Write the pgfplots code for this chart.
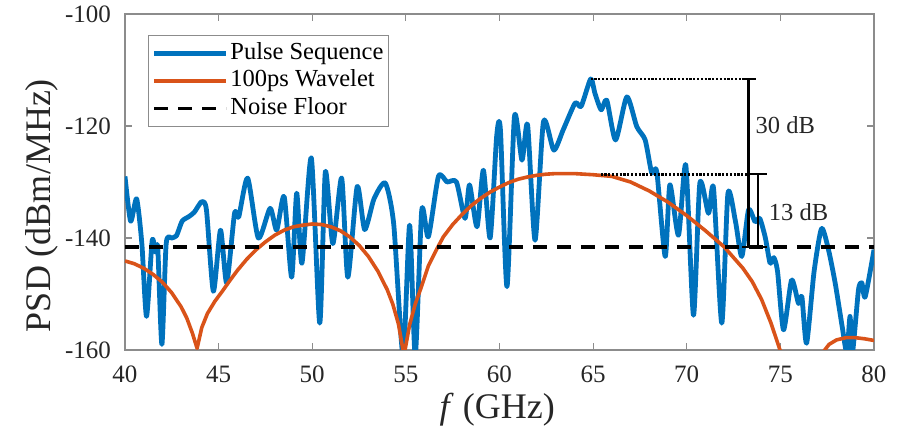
\documentclass[border=0pt]{standalone}
\usepackage{fontspec}
\setmainfont{Liberation Serif}
\usepackage{pgfplots}
\pgfplotsset{compat=1.18}
\definecolor{mblue}{HTML}{0072BD}
\definecolor{morange}{HTML}{D95319}
\definecolor{axgray}{HTML}{8C8C8C}
\definecolor{txt}{HTML}{262626}
\begin{document}
\begin{tikzpicture}
\useasboundingbox (-62.5pt,-41.5pt) rectangle (388.5pt,175pt);
\begin{axis}[
  scale only axis, width=374.5pt, height=168pt,
  xmin=40, xmax=80, ymin=-160, ymax=-100,
  xtick={40,45,...,80}, ytick={-160,-140,-120,-100},
  tick align=inside, tick pos=both, major tick length=3.5pt,
  axis line style={axgray, line width=0.6pt},
  every tick/.style={axgray, line width=0.6pt},
  tick label style={font=\fontsize{12.5}{14}\selectfont, text=txt},
  /pgf/number format/assume math mode=true,
  yticklabel style={xshift=-3.5pt},
  xticklabel style={yshift=-4.3pt},
  xlabel={\textit{f} (GHz)}, ylabel={PSD (dBm/MHz)},
  label style={font=\fontsize{18}{20}\selectfont, text=txt},
  xlabel style={at={(axis description cs:0.497,-0.179)}, anchor=center},
  ylabel style={at={(axis description cs:-0.111,0.43)}, anchor=center},
  legend style={at={(axis description cs:0.0307,0.9375)}, anchor=north west,
    draw=axgray, line width=0.6pt, inner xsep=1.6pt, inner ysep=2pt,
    font=\fontsize{12.25}{13.75}\selectfont,
    nodes={inner sep=0.9pt, text height=9pt, text depth=3pt}},
  legend cell align=left,
  legend image code/.code={\draw[#1] (0pt,0pt) -- (36pt,0pt);},
]
\addplot[mblue, line width=2.4pt, smooth, tension=0.4, line join=round] coordinates {
(40.0,-129.0) (40.3,-137.0) (40.62,-133.0) (40.9,-141.0) (41.15,-154.0)
(41.45,-140.5) (41.62,-142.5) (41.75,-141.8) (41.97,-159.0) (42.2,-141.0)
(42.5,-140.0) (42.75,-139.6) (43.05,-137.0) (43.4,-136.2) (43.7,-135.4)
(44.1,-133.5) (44.35,-135.0) (44.72,-149.5) (45.1,-138.6) (45.43,-148.0)
(45.85,-135.6) (46.07,-136.3) (46.55,-129.3) (47.12,-140.0) (47.75,-134.7)
(48.1,-138.6) (48.5,-132.6) (48.9,-147.0) (49.17,-132.0) (49.45,-144.5)
(49.95,-125.7) (50.4,-155.2) (50.7,-128.2) (51.1,-141.0) (51.57,-129.3)
(51.9,-147.0) (52.4,-130.8) (52.8,-138.5) (53.3,-133.0) (53.9,-130.2)
(54.35,-137.5) (54.85,-161.0) (55.2,-137.7) (55.5,-161.0) (55.85,-135.0)
(56.2,-139.8) (56.74,-129.0) (57.2,-130.0) (57.7,-130.0) (58.16,-136.5)
(58.4,-130.5) (58.8,-138.0) (59.14,-127.9) (59.5,-140.0) (59.85,-121.8)
(60.05,-120.7) (60.4,-148.7) (60.8,-118.3) (61.2,-126.1) (61.5,-119.8)
(61.9,-140.4) (62.35,-119.2) (62.9,-124.3) (63.4,-120.7) (64.04,-115.9)
(64.36,-116.5) (64.87,-111.6) (65.1,-114.2) (65.43,-117.1) (65.73,-115.4)
(66.2,-122.5) (66.8,-114.8) (67.33,-120.1) (67.78,-122.5) (68.13,-128.4)
(68.4,-128.2) (68.85,-143.3) (69.1,-130.5) (69.56,-139.5) (69.95,-127.0)
(70.36,-153.8) (70.7,-130.2) (71.16,-135.6) (71.43,-131.1) (71.87,-155.2)
(72.2,-132.0) (72.6,-137.0) (72.94,-143.3) (73.3,-135.0) (73.65,-137.1)
(73.9,-136.5) (74.2,-140.0) (74.45,-144.5) (74.65,-143.5) (74.85,-146.0)
(75.17,-156.4) (75.6,-147.5) (75.97,-151.7) (76.15,-150.5) (76.4,-158.8)
(76.8,-146.0) (77.2,-138.3) (77.57,-142.1) (77.93,-148.1) (78.3,-155.8)
(78.55,-160.5) (78.72,-154.0) (78.85,-160.5) (79.17,-149.3) (79.35,-148.0)
(79.53,-150.5) (80.0,-142.1)
};
\addplot[morange, line width=1.8pt, line join=round] coordinates {
(40.0,-144.1) (40.5,-144.6) (41.0,-145.4) (41.5,-146.5) (42.0,-147.9)
(42.5,-149.8) (43.0,-152.3) (43.3,-154.3) (43.6,-157.0) (43.85,-159.7)
(44.1,-156.0) (44.4,-153.5) (44.8,-151.3) (45.2,-149.5) (45.6,-147.6)
(46.0,-145.8) (46.5,-143.8) (47.0,-142.1) (47.5,-140.7) (48.0,-139.5)
(48.5,-138.6) (49.0,-138.0) (49.5,-137.7) (50.0,-137.5) (50.5,-137.6)
(51.0,-138.0) (51.5,-138.7) (52.0,-139.8) (52.5,-141.3) (53.0,-143.3)
(53.5,-145.9) (54.0,-149.2) (54.3,-151.8) (54.6,-155.3) (54.9,-161.0)
(55.2,-155.5) (55.5,-151.8) (55.8,-149.0) (56.2,-145.0) (56.6,-142.3)
(57.0,-139.8) (57.5,-137.6) (58.0,-135.8) (58.5,-134.2) (59.0,-132.9)
(59.5,-131.8) (60.0,-130.9) (60.5,-130.1) (61.0,-129.5) (61.5,-129.1)
(62.0,-128.8) (62.5,-128.6) (63.0,-128.5) (63.5,-128.5) (64.0,-128.5)
(64.5,-128.6) (65.0,-128.7) (66.0,-129.0) (67.0,-130.0) (68.0,-131.6)
(69.0,-133.6) (70.0,-136.0) (71.0,-138.7) (72.0,-141.6) (72.5,-143.5)
(73.0,-145.4) (73.5,-147.8) (74.0,-151.0) (74.5,-155.2) (75.0,-160.2)
(75.5,-166.0) (76.5,-172.0) (77.0,-163.0) (77.3,-160.3) (77.6,-159.0)
(78.0,-158.2) (78.5,-157.8) (79.0,-157.8) (79.5,-158.0) (80.0,-158.3)
};
\addplot[black, line width=1.75pt, dash pattern=on 7pt off 5pt] coordinates {(40,-141.6) (80,-141.6)};
\legend{Pulse Sequence\hspace{5pt}, 100ps Wavelet, Noise Floor}
% annotations
\addplot[forget plot, black, line width=1.4pt, dash pattern=on 1.1pt off 0.8pt] coordinates {(64.87,-111.6) (73.0,-111.6)};
\addplot[forget plot, black, line width=1.4pt, dash pattern=on 1.1pt off 0.8pt] coordinates {(65.4,-128.6) (73.3,-128.6)};
\addplot[forget plot, black, line width=1.2pt] coordinates {(72.95,-111.6) (73.7,-111.6)};
\addplot[forget plot, black, line width=1.2pt] coordinates {(73.3,-111.6) (73.3,-141.6)};
\addplot[forget plot, black, line width=1.2pt] coordinates {(72.95,-141.6) (73.7,-141.6)};
\addplot[forget plot, black, line width=1.2pt] coordinates {(73.3,-128.6) (74.3,-128.6)};
\addplot[forget plot, black, line width=1.2pt] coordinates {(73.8,-128.6) (73.8,-141.6)};
\addplot[forget plot, black, line width=1.2pt] coordinates {(73.3,-141.6) (74.3,-141.6)};
\node[font=\fontsize{12.25}{14}\selectfont, text=txt] at (axis cs:75.26,-119.8) {30 dB};
\node[font=\fontsize{12.25}{14}\selectfont, text=txt] at (axis cs:75.97,-135.3) {13 dB};
\end{axis}
\end{tikzpicture}
\end{document}
